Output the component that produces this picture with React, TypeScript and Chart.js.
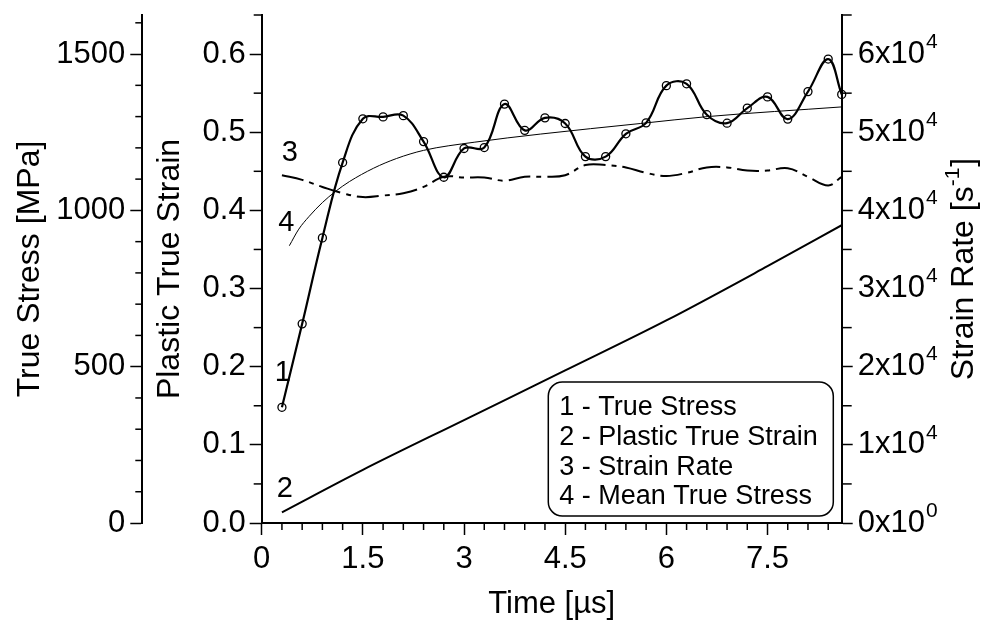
import React, { useEffect, useRef } from 'react';
import { Chart, registerables } from 'chart.js';

Chart.register(...registerables);

const FONT = '"Liberation Sans", Arial, Helvetica, sans-serif';

// ---- data ----
const stressTime = [0.3, 0.6, 0.9, 1.2, 1.5, 1.8, 2.1, 2.4, 2.7, 3.0, 3.3, 3.6, 3.9, 4.2, 4.5, 4.8, 5.1, 5.4, 5.7, 6.0, 6.3, 6.6, 6.9, 7.2, 7.5, 7.8, 8.1, 8.4, 8.6];
const stressValues = [370, 637, 912, 1153, 1293, 1299, 1303, 1220, 1106, 1198, 1201, 1340, 1256, 1296, 1278, 1172, 1172, 1245, 1280, 1399, 1405, 1306, 1279, 1327, 1363, 1292, 1380, 1484, 1371];

const strainTime = [0.3, 1.5, 3.0, 4.5, 6.0, 7.5, 8.6];
const strainValues = [0.0137, 0.068, 0.1317, 0.1952, 0.2592, 0.3286, 0.381];

const rateTime = [0.3, 0.6, 0.9, 1.2, 1.5, 1.8, 2.1, 2.4, 2.7, 3.0, 3.3, 3.6, 3.9, 4.2, 4.5, 4.8, 5.1, 5.4, 5.7, 6.0, 6.3, 6.6, 6.9, 7.2, 7.5, 7.8, 8.1, 8.4, 8.6];
const rateValues = [44500, 43900, 43000, 42200, 41700, 41900, 42200, 43000, 44300, 44200, 44200, 43800, 44300, 44300, 44500, 45800, 45800, 45500, 44800, 44400, 44800, 45500, 45500, 45100, 45100, 45400, 44300, 43200, 44300];

const meanTime = [0.41, 0.55, 0.7, 0.9, 1.09, 1.3, 1.66, 2.0, 2.4, 3.15, 4.13, 5.62, 6.61, 8.6];
const meanValues = [887, 940, 980, 1025, 1060, 1092, 1135, 1166, 1192, 1218, 1244, 1278, 1300, 1331];

const stressMajorTicks = [0, 500, 1000, 1500];
const strainMajorTicks = [0, 0.1, 0.2, 0.3, 0.4, 0.5, 0.6];
const rateMajorTicks = [0, 10000, 20000, 30000, 40000, 50000, 60000];
const timeMajorTicks = [0, 1.5, 3, 4.5, 6, 7.5];

const legendLabels = ['1 - True Stress', '2 - Plastic True Strain', '3 - Strain Rate', '4 - Mean True Stress'];
const curveTags = ['1', '2', '3', '4'];

const xTitle = 'Time [\u00b5s]';
const stressTitle = 'True Stress [MPa]';
const strainTitle = 'Plastic True Strain';
const rateTitleMain = 'Strain Rate [s';
const rateTitleSup = '-1';
const rateTitleEnd = ']';
const rateTickExponent = 4;

const TICK_SIZE = 31;

const toXY = (xs: number[], ys: number[]) => xs.map((x, i) => ({ x, y: ys[i] }));
const fmtNum = (v: number) => String(Number(v.toFixed(3)));
const setTicks = (vals: number[]) => (s: any) => { s.ticks = vals.map((v) => ({ value: v })); };

const minorSpecs = [
  { id: 'x', step: 0.3, major: 1.5, len: 7 },
  { id: 'yStrain', step: 0.05, major: 0.1, len: 8 },
  { id: 'yStress', step: 100, major: 500, len: 7 },
  { id: 'yRate', step: 5000, major: 10000, len: 10 },
];

const decorPlugin = {
  id: 'decor',
  afterDraw(chart: any) {
    const ctx = chart.ctx as CanvasRenderingContext2D;
    ctx.save();
    ctx.strokeStyle = '#000';
    ctx.fillStyle = '#000';
    // minor ticks
    ctx.lineWidth = 1.5;
    for (const spec of minorSpecs) {
      const s = chart.scales[spec.id];
      for (let i = 0; ; i++) {
        const v = i * spec.step;
        if (v > s.max + 1e-9) break;
        const r = v / spec.major;
        if (Math.abs(r - Math.round(r)) < 1e-6) continue;
        const p = s.getPixelForValue(v);
        ctx.beginPath();
        if (s.position === 'bottom') {
          ctx.moveTo(p, s.top);
          ctx.lineTo(p, s.top + spec.len);
        } else if (s.position === 'left') {
          ctx.moveTo(s.right, p);
          ctx.lineTo(s.right - spec.len, p);
        } else {
          ctx.moveTo(s.left, p);
          ctx.lineTo(s.left + spec.len, p);
        }
        ctx.stroke();
      }
    }
    // right axis labels with superscript
    const sr = chart.scales.yRate;
    ctx.textBaseline = 'middle';
    ctx.textAlign = 'left';
    for (const t of sr.ticks) {
      const y = sr.getPixelForValue(t.value);
      const exp = t.value === 0 ? 0 : rateTickExponent;
      const mant = Math.round(t.value / Math.pow(10, exp));
      const main = `${mant}x10`;
      ctx.font = `${TICK_SIZE}px ${FONT}`;
      const x0 = sr.left + 16;
      ctx.fillText(main, x0, y);
      const w = ctx.measureText(main).width;
      ctx.font = `21px ${FONT}`;
      ctx.fillText(String(exp), x0 + w + 1, y - 12);
    }
    // right axis title, rotated, with superscript
    const ca = chart.chartArea;
    ctx.save();
    ctx.translate(964, (ca.top + ca.bottom) / 2);
    ctx.rotate(-Math.PI / 2);
    ctx.font = `32px ${FONT}`;
    const w1 = ctx.measureText(rateTitleMain).width;
    const w3 = ctx.measureText(rateTitleEnd).width;
    ctx.font = `21px ${FONT}`;
    const w2 = ctx.measureText(rateTitleSup).width;
    let tx = -(w1 + w2 + w3 + 1) / 2;
    ctx.font = `32px ${FONT}`;
    ctx.fillText(rateTitleMain, tx, 0);
    tx += w1;
    ctx.font = `21px ${FONT}`;
    ctx.fillText(rateTitleSup, tx, -11);
    tx += w2 + 1;
    ctx.font = `32px ${FONT}`;
    ctx.fillText(rateTitleEnd, tx, 0);
    ctx.restore();
    // legend box
    const bw = 285, bh = 134;
    const bx = ca.right - 8.4 - bw;
    const by = ca.bottom - 7 - bh;
    ctx.lineWidth = 1.5;
    ctx.beginPath();
    (ctx as any).roundRect(bx, by, bw, bh, 14);
    ctx.fillStyle = '#fff';
    ctx.fill();
    ctx.stroke();
    ctx.fillStyle = '#000';
    ctx.font = `27px ${FONT}`;
    ctx.textBaseline = 'middle';
    legendLabels.forEach((lab, i) => {
      ctx.fillText(lab, bx + 11, by + 25.5 + i * 29.8);
    });
    // curve tags
    const offs = [[1, -34], [3, -23], [8, -22], [-3, -23]];
    ctx.font = `29px ${FONT}`;
    ctx.textAlign = 'center';
    curveTags.forEach((tag, i) => {
      const el = chart.getDatasetMeta(i).data[0];
      ctx.fillText(tag, el.x + offs[i][0], el.y + offs[i][1]);
    });
    ctx.restore();
  },
};

export default function App() {
  const ref = useRef<HTMLCanvasElement>(null);
  useEffect(() => {
    const canvas = ref.current!;
    Chart.defaults.font.family = FONT;
    Chart.defaults.color = '#000';
    const axisCommon = (tickLength: number) => ({
      grid: { drawOnChartArea: false, drawTicks: true, tickLength, tickWidth: 1.5, tickColor: '#000' },
      border: { display: true, color: '#000', width: 2 },
    });
    const chart = new Chart(canvas, {
      type: 'line',
      data: {
        datasets: [
          {
            label: legendLabels[0], data: toXY(stressTime, stressValues), yAxisID: 'yStress',
            borderColor: '#000', borderWidth: 2.2, tension: 0.4, pointRadius: 4, pointBorderWidth: 1.3,
            pointBackgroundColor: 'rgba(0,0,0,0)', pointBorderColor: '#000', fill: false, clip: false,
          },
          {
            label: legendLabels[1], data: toXY(strainTime, strainValues), yAxisID: 'yStrain',
            borderColor: '#000', borderWidth: 2, cubicInterpolationMode: 'monotone', pointRadius: 0, fill: false,
          },
          {
            label: legendLabels[2], data: toXY(rateTime, rateValues), yAxisID: 'yRate',
            borderColor: '#000', borderWidth: 2, borderDash: [22, 6, 5, 6], tension: 0.4, pointRadius: 0, fill: false,
          },
          {
            label: legendLabels[3], data: toXY(meanTime, meanValues), yAxisID: 'yStress',
            borderColor: '#000', borderWidth: 1, cubicInterpolationMode: 'monotone', pointRadius: 0, fill: false,
          },
        ],
      } as any,
      options: {
        animation: false,
        responsive: false,
        maintainAspectRatio: false,
        layout: { padding: { top: 15, left: 0, right: 0, bottom: 0 } },
        plugins: { legend: { display: false }, tooltip: { enabled: false } },
        scales: {
          x: {
            type: 'linear', position: 'bottom', min: 0, max: 8.6,
            afterBuildTicks: setTicks(timeMajorTicks),
            ticks: { autoSkip: false, maxRotation: 0, padding: 6, font: { size: TICK_SIZE }, callback: (v: any) => fmtNum(Number(v)) },
            ...axisCommon(12),
            title: { display: true, text: xTitle, font: { size: 31 }, padding: { top: 0, bottom: 5 } },
            afterFit: (s: any) => { s.height = 105; },
          },
          yStrain: {
            type: 'linear', position: 'left', weight: 0, min: 0, max: 0.65,
            afterBuildTicks: setTicks(strainMajorTicks),
            ticks: { autoSkip: false, padding: 4, font: { size: TICK_SIZE }, callback: (v: any) => Number(v).toFixed(1) },
            ...axisCommon(12),
            title: { display: true, text: strainTitle, font: { size: 32 }, padding: { top: 9, bottom: 0 } },
            afterFit: (s: any) => { s.width = 119.4; s.paddingTop = 0; s.paddingBottom = 0; },
          },
          yStress: {
            type: 'linear', position: 'left', weight: 1, min: 0, max: 1625,
            afterBuildTicks: setTicks(stressMajorTicks),
            ticks: { autoSkip: false, padding: 5, font: { size: TICK_SIZE }, callback: (v: any) => String(v) },
            ...axisCommon(12),
            title: { display: true, text: stressTitle, font: { size: 32 }, padding: { top: 11, bottom: 0 } },
            afterFit: (s: any) => { s.width = 142.3; s.paddingTop = 0; s.paddingBottom = 0; },
          },
          yRate: {
            type: 'linear', position: 'right', min: 0, max: 65000,
            afterBuildTicks: setTicks(rateMajorTicks),
            ticks: { autoSkip: false, callback: () => '' },
            ...axisCommon(11),
            afterFit: (s: any) => { s.width = 152.3; s.paddingTop = 0; s.paddingBottom = 0; },
          },
        },
      } as any,
      plugins: [decorPlugin],
    });
    return () => chart.destroy();
  }, []);
  return (
    <div style={{ position: 'fixed', left: 0, top: 0, width: 994, height: 628, background: '#fff' }}>
      <canvas ref={ref} width={994} height={628} style={{ width: 994, height: 628, display: 'block' }} />
    </div>
  );
}
